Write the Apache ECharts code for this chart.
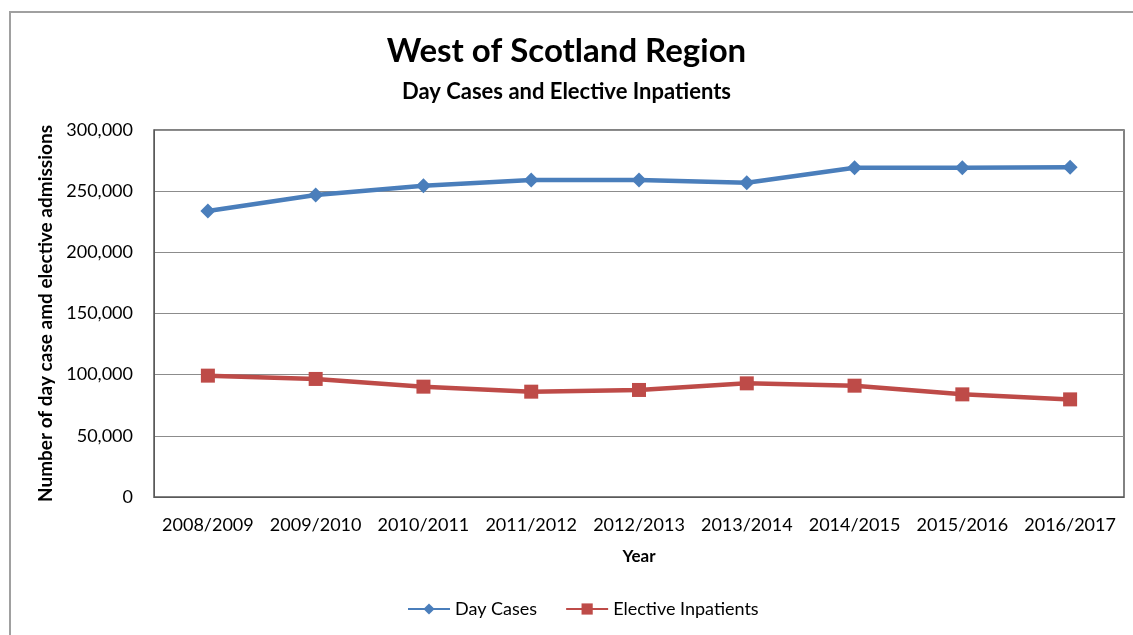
<!DOCTYPE html>
<html>
<head>
<meta charset="utf-8">
<script src="https://cdn.jsdelivr.net/npm/echarts@6/dist/echarts.min.js"></script>
<style>
  html, body { margin: 0; padding: 0; background: #fff; }
  #chart { width: 1133px; height: 635px; }
</style>
</head>
<body>
<div id="chart"></div>
<script>
var years = ['2008/2009', '2009/2010', '2010/2011', '2011/2012', '2012/2013', '2013/2014', '2014/2015', '2015/2016', '2016/2017'];
var dayCases = [233800, 246900, 254500, 259100, 259100, 256900, 269200, 269200, 269500];
var electiveInpatients = [99200, 96500, 90200, 86100, 87500, 92900, 91000, 83900, 79800];

var font = 'Lato, "Noto Sans", sans-serif';

var chart = echarts.init(document.getElementById('chart'));
chart.setOption({
  textStyle: { fontFamily: font },
  graphic: [{
    type: 'rect',
    shape: { x: 10, y: 12, width: 1140, height: 640 },
    style: { fill: 'none', stroke: '#a0a0a0', lineWidth: 2 },
    silent: true
  }],
  title: [{
    text: 'West of Scotland Region',
    left: 'center',
    top: 30,
    textStyle: { fontFamily: font, fontSize: 33, fontWeight: 'bold', color: '#000' }
  }, {
    text: 'Day Cases and Elective Inpatients',
    left: 'center',
    top: 76,
    textStyle: { fontFamily: font, fontSize: 22, fontWeight: 'bold', color: '#000' }
  }],
  legend: {
    bottom: 12,
    left: 402,
    itemWidth: 42,
    itemHeight: 14,
    itemGap: 28,
    textStyle: { fontFamily: font, fontSize: 18, color: '#000' },
    data: ['Day Cases', 'Elective Inpatients']
  },
  grid: {
    left: 154,
    right: 9,
    top: 130,
    bottom: 138,
    show: true,
    borderColor: '#595959',
    borderWidth: 1.5
  },
  xAxis: {
    type: 'category',
    data: years,
    boundaryGap: true,
    name: 'Year',
    nameLocation: 'middle',
    nameGap: 51,
    nameTextStyle: { fontFamily: font, fontSize: 17, fontWeight: 'bold', color: '#000' },
    axisLine: { lineStyle: { color: '#595959' } },
    axisTick: { show: false },
    axisLabel: { fontFamily: font, fontSize: 18, color: '#000', margin: 19, interval: 0 }
  },
  yAxis: {
    type: 'value',
    min: 0,
    max: 300000,
    interval: 50000,
    name: 'Number of day case amd elective admissions',
    nameLocation: 'middle',
    nameGap: 98,
    nameTextStyle: { fontFamily: font, fontSize: 19, fontWeight: 'bold', color: '#000' },
    axisLine: { show: true, lineStyle: { color: '#595959' } },
    axisTick: { show: false },
    splitLine: { lineStyle: { color: '#8c8c8c', width: 1.2 } },
    axisLabel: {
      fontFamily: font, fontSize: 18, color: '#000', margin: 21,
      formatter: function (v) { return v.toLocaleString('en-US'); }
    }
  },
  series: [{
    name: 'Day Cases',
    type: 'line',
    data: dayCases,
    symbol: 'diamond',
    symbolSize: 15,
    lineStyle: { width: 4.5, color: '#4a7ebb' },
    itemStyle: { color: '#4a7ebb' }
  }, {
    name: 'Elective Inpatients',
    type: 'line',
    data: electiveInpatients,
    symbol: 'rect',
    symbolSize: 14,
    lineStyle: { width: 4.5, color: '#be4b48' },
    itemStyle: { color: '#be4b48' }
  }]
});
</script>
</body>
</html>
